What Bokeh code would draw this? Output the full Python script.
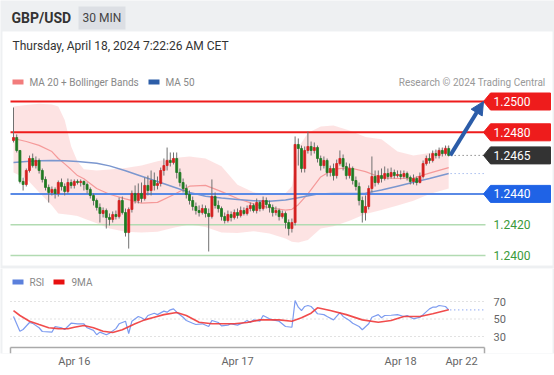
from bokeh.plotting import figure
from bokeh.layouts import column
from bokeh.models import Range1d, FixedTicker, Arrow, NormalHead, ColumnDataSource
from bokeh.embed import file_html
from bokeh.resources import INLINE
from bokeh.core.properties import value

FONT = value("Roboto")

# ---------------- texts ----------------
symbol = "GBP/USD"
timeframe = "30 MIN"
timestamp = "Thursday, April 18, 2024 7:22:26 AM CET"
legend_main = ["MA 20 + Bollinger Bands", "MA 50"]
credit = "Research \u00a9 2024 Trading Central"
legend_rsi = ["RSI", "9MA"]

# ---------------- 30-min candles ----------------
opens = [1.24747, 1.24766, 1.24682, 1.24481, 1.24461, 1.24552, 1.24630, 1.24584, 1.24617, 1.24552,
         1.24494, 1.24442, 1.24409, 1.24429, 1.24403, 1.24474, 1.24448, 1.24416, 1.24474, 1.24455,
         1.24481, 1.24474, 1.24481, 1.24461, 1.24429, 1.24390, 1.24357, 1.24312, 1.24273, 1.24292,
         1.24247, 1.24234, 1.24266, 1.24253, 1.24357, 1.24279, 1.24149, 1.24299, 1.24403, 1.24357,
         1.24403, 1.24370, 1.24455, 1.24422, 1.24487, 1.24455, 1.24468, 1.24552, 1.24584, 1.24617,
         1.24604, 1.24630, 1.24539, 1.24474, 1.24435, 1.24396, 1.24357, 1.24318, 1.24292, 1.24279,
         1.24305, 1.24273, 1.24253, 1.24383, 1.24325, 1.24305, 1.24253, 1.24227, 1.24266, 1.24247,
         1.24279, 1.24260, 1.24292, 1.24273, 1.24305, 1.24325, 1.24292, 1.24344, 1.24305, 1.24357,
         1.24331, 1.24312, 1.24279, 1.24292, 1.24253, 1.24273, 1.24214, 1.24175, 1.24214, 1.24721,
         1.24695, 1.24565, 1.24682, 1.24708, 1.24682, 1.24701, 1.24630, 1.24584, 1.24617, 1.24539,
         1.24565, 1.24519, 1.24597, 1.24630, 1.24578, 1.24519, 1.24565, 1.24487, 1.24448, 1.24357,
         1.24279, 1.24318, 1.24435, 1.24513, 1.24474, 1.24519, 1.24500, 1.24532, 1.24513, 1.24539,
         1.24519, 1.24526, 1.24513, 1.24532, 1.24506, 1.24481, 1.24500, 1.24474, 1.24513, 1.24597,
         1.24630, 1.24617, 1.24662, 1.24649, 1.24682, 1.24662, 1.24695]
highs = [1.24961, 1.24786, 1.24682, 1.24506, 1.24565, 1.24649, 1.24662, 1.24643, 1.24630, 1.24565,
         1.24513, 1.24461, 1.24448, 1.24442, 1.24487, 1.24500, 1.24468, 1.24500, 1.24494, 1.24494,
         1.24494, 1.24494, 1.24487, 1.24474, 1.24442, 1.24403, 1.24370, 1.24338, 1.24312, 1.24305,
         1.24273, 1.24286, 1.24292, 1.24377, 1.24383, 1.24305, 1.24312, 1.24422, 1.24455, 1.24468,
         1.24474, 1.24506, 1.24519, 1.24552, 1.24539, 1.24513, 1.24571, 1.24630, 1.24701, 1.24669,
         1.24669, 1.24669, 1.24565, 1.24500, 1.24461, 1.24422, 1.24383, 1.24344, 1.24325, 1.24331,
         1.24325, 1.24305, 1.24494, 1.24409, 1.24357, 1.24318, 1.24279, 1.24292, 1.24286, 1.24299,
         1.24305, 1.24318, 1.24312, 1.24325, 1.24344, 1.24338, 1.24370, 1.24357, 1.24383, 1.24377,
         1.24357, 1.24331, 1.24318, 1.24305, 1.24292, 1.24286, 1.24234, 1.24240, 1.24773, 1.24760,
         1.24714, 1.24708, 1.24805, 1.24740, 1.24734, 1.24714, 1.24649, 1.24643, 1.24630, 1.24584,
         1.24597, 1.24623, 1.24682, 1.24656, 1.24604, 1.24597, 1.24578, 1.24513, 1.24474, 1.24383,
         1.24390, 1.24455, 1.24643, 1.24552, 1.24552, 1.24565, 1.24578, 1.24565, 1.24571, 1.24558,
         1.24552, 1.24552, 1.24552, 1.24545, 1.24519, 1.24526, 1.24513, 1.24539, 1.24617, 1.24649,
         1.24662, 1.24682, 1.24688, 1.24701, 1.24701, 1.24714, 1.24714]
lows = [1.24734, 1.24669, 1.24468, 1.24422, 1.24448, 1.24539, 1.24571, 1.24565, 1.24532, 1.24474,
        1.24422, 1.24344, 1.24390, 1.24370, 1.24383, 1.24422, 1.24390, 1.24403, 1.24435, 1.24435,
        1.24461, 1.24448, 1.24422, 1.24403, 1.24370, 1.24325, 1.24292, 1.24214, 1.24247, 1.24175,
        1.24195, 1.24214, 1.24234, 1.24240, 1.24266, 1.24123, 1.24045, 1.24279, 1.24338, 1.24338,
        1.24344, 1.24357, 1.24390, 1.24390, 1.24422, 1.24429, 1.24448, 1.24519, 1.24552, 1.24578,
        1.24591, 1.24500, 1.24448, 1.24409, 1.24370, 1.24331, 1.24292, 1.24266, 1.24253, 1.24266,
        1.24247, 1.24026, 1.24240, 1.24305, 1.24279, 1.24227, 1.24208, 1.24214, 1.24221, 1.24234,
        1.24240, 1.24247, 1.24260, 1.24260, 1.24286, 1.24279, 1.24273, 1.24286, 1.24292, 1.24305,
        1.24279, 1.24253, 1.24260, 1.24227, 1.24240, 1.24175, 1.24130, 1.24149, 1.24195, 1.24584,
        1.24539, 1.24539, 1.24662, 1.24649, 1.24662, 1.24604, 1.24552, 1.24565, 1.24513, 1.24513,
        1.24487, 1.24500, 1.24584, 1.24552, 1.24494, 1.24500, 1.24461, 1.24422, 1.24325, 1.24214,
        1.24227, 1.24299, 1.24409, 1.24448, 1.24461, 1.24474, 1.24487, 1.24494, 1.24500, 1.24500,
        1.24506, 1.24494, 1.24500, 1.24487, 1.24461, 1.24461, 1.24455, 1.24468, 1.24500, 1.24584,
        1.24597, 1.24604, 1.24630, 1.24630, 1.24643, 1.24649, 1.24643]
closes = [1.24766, 1.24682, 1.24481, 1.24461, 1.24552, 1.24630, 1.24584, 1.24617, 1.24552, 1.24494,
          1.24442, 1.24409, 1.24429, 1.24403, 1.24474, 1.24448, 1.24416, 1.24474, 1.24455, 1.24481,
          1.24474, 1.24481, 1.24461, 1.24429, 1.24390, 1.24357, 1.24312, 1.24273, 1.24292, 1.24247,
          1.24234, 1.24266, 1.24253, 1.24357, 1.24279, 1.24149, 1.24299, 1.24403, 1.24357, 1.24403,
          1.24370, 1.24455, 1.24422, 1.24487, 1.24455, 1.24468, 1.24552, 1.24584, 1.24617, 1.24604,
          1.24630, 1.24539, 1.24474, 1.24435, 1.24396, 1.24357, 1.24318, 1.24292, 1.24279, 1.24305,
          1.24273, 1.24253, 1.24383, 1.24325, 1.24305, 1.24253, 1.24227, 1.24266, 1.24247, 1.24279,
          1.24260, 1.24292, 1.24273, 1.24305, 1.24325, 1.24292, 1.24344, 1.24305, 1.24357, 1.24331,
          1.24312, 1.24279, 1.24292, 1.24253, 1.24273, 1.24214, 1.24175, 1.24214, 1.24721, 1.24695,
          1.24565, 1.24682, 1.24708, 1.24682, 1.24701, 1.24630, 1.24584, 1.24617, 1.24539, 1.24565,
          1.24519, 1.24597, 1.24630, 1.24578, 1.24519, 1.24565, 1.24487, 1.24448, 1.24357, 1.24279,
          1.24318, 1.24435, 1.24513, 1.24474, 1.24519, 1.24500, 1.24532, 1.24513, 1.24539, 1.24519,
          1.24526, 1.24513, 1.24532, 1.24506, 1.24481, 1.24500, 1.24474, 1.24513, 1.24597, 1.24630,
          1.24617, 1.24662, 1.24649, 1.24682, 1.24662, 1.24695, 1.24650]

# ---------------- indicators (read at bar positions) ----------------
band_idx = [0, 4, 8, 12, 14, 16, 18, 20, 22, 26, 30, 35, 40, 45, 50, 55, 60, 65, 70, 75, 80, 85,
            87, 89, 92, 96, 100, 105, 110, 115, 120, 125, 130, 136]
band_upper = [1.24968, 1.24978, 1.24985, 1.24980, 1.24968, 1.24880, 1.24710, 1.24610, 1.24560,
              1.24552, 1.24558, 1.24568, 1.24585, 1.24612, 1.24633, 1.24643, 1.24630, 1.24580,
              1.24460, 1.24410, 1.24400, 1.24405, 1.24450, 1.24700, 1.24795, 1.24838, 1.24844,
              1.24812, 1.24770, 1.24755, 1.24675, 1.24649, 1.24665, 1.24714]
band_lower = [1.24539, 1.24500, 1.24410, 1.24325, 1.24273, 1.24268, 1.24263, 1.24256, 1.24240,
              1.24210, 1.24175, 1.24155, 1.24149, 1.24155, 1.24180, 1.24201, 1.24185, 1.24150,
              1.24146, 1.24158, 1.24143, 1.24110, 1.24090, 1.24085, 1.24100, 1.24175, 1.24190,
              1.24225, 1.24270, 1.24295, 1.24325, 1.24355, 1.24400, 1.24435]
ma20 = [1.24760, 1.24740, 1.24715, 1.24675, 1.24630, 1.24595, 1.24558, 1.24519, 1.24498, 1.24435,
        1.24398, 1.24368, 1.24340, 1.24345, 1.24395, 1.24450, 1.24455, 1.24415, 1.24370, 1.24335,
        1.24310, 1.24295, 1.24300, 1.24330, 1.24400, 1.24510, 1.24560, 1.24570, 1.24545, 1.24505,
        1.24500, 1.24503, 1.24535, 1.24571]
ma50_idx = [0, 4, 8, 12, 16, 20, 26, 30, 35, 40, 45, 50, 55, 60, 65, 70, 75, 80, 85, 89, 95, 100,
            105, 110, 115, 120, 125, 130, 136]
ma50 = [1.24604, 1.24610, 1.24615, 1.24617, 1.24615, 1.24610, 1.24599, 1.24582, 1.24550, 1.24515,
        1.24480, 1.24445, 1.24410, 1.24385, 1.24373, 1.24363, 1.24356, 1.24352, 1.24360, 1.24375,
        1.24400, 1.24403, 1.24403, 1.24405, 1.24425, 1.24450, 1.24475, 1.24500, 1.24532]

resistances = [1.2500, 1.2480]
support_main = [1.2440]
supports_minor = [1.2420, 1.2400]
target = 1.2500

rsi_idx = [0, 2, 3, 5, 6, 8, 9, 12, 13, 15, 16, 18, 20, 22, 23, 25, 26, 27, 29, 30, 32, 33, 35, 36,
           37, 39, 40, 41, 42, 44, 45, 47, 48, 49, 50, 51, 53, 54, 56, 57, 59, 61, 62, 64, 65, 67,
           68, 70, 72, 73, 74, 75, 77, 78, 80, 81, 83, 85, 87, 88, 89, 90, 91, 92, 93, 94, 95, 97,
           98, 100, 102, 103, 105, 106, 108, 109, 111, 112, 114, 115, 116, 118, 120, 122, 123, 125,
           127, 128, 130, 131, 132, 133, 135, 136]
rsi = [52.9, 36.0, 38.0, 46.0, 45.0, 40.0, 35.7, 35.0, 41.4, 40.0, 38.0, 45.2, 44.5, 44.5, 40.0,
       37.0, 32.0, 35.0, 32.0, 33.8, 39.0, 44.5, 47.5, 33.4, 47.5, 52.9, 51.4, 49.0, 54.0, 56.6,
       55.0, 59.0, 57.8, 60.5, 61.6, 57.8, 52.0, 48.3, 45.2, 43.7, 44.5, 41.4, 48.3, 46.0, 42.2,
       43.0, 44.5, 43.0, 46.0, 48.3, 46.0, 49.0, 47.5, 54.0, 50.2, 49.0, 47.5, 41.4, 40.6, 71.0,
       63.5, 59.7, 64.3, 65.4, 64.3, 60.5, 56.0, 55.0, 52.9, 49.0, 57.4, 52.9, 48.3, 45.2, 41.4,
       37.7, 44.5, 52.0, 55.0, 51.4, 54.0, 54.3, 55.0, 52.9, 54.0, 50.2, 52.0, 55.0, 61.6, 63.5,
       63.5, 65.4, 64.3, 60.5]
ma9_idx = [0, 2, 5, 8, 11, 14, 17, 19, 22, 25, 28, 31, 34, 38, 41, 44, 47, 51, 54, 58, 62, 69, 73,
           77, 81, 83, 87, 90, 93, 95, 99, 104, 109, 114, 118, 122, 127, 131, 136]
ma9 = [59.7, 54.0, 47.5, 43.7, 40.0, 39.0, 38.8, 40.6, 42.6, 40.0, 36.0, 34.6, 37.7, 44.5, 49.0,
       52.0, 55.0, 57.4, 54.0, 46.3, 44.5, 44.5, 46.0, 49.0, 49.0, 49.0, 47.5, 51.4, 56.6, 62.8,
       59.7, 55.0, 49.0, 46.3, 48.3, 52.9, 52.9, 56.0, 60.5]
rsi_levels = [30, 50, 70]
date_ticks = [19, 70, 121, 140]
date_labels = ["Apr 16", "Apr 17", "Apr 18", "Apr 22"]

# ---------------- colours ----------------
UP, DOWN, WICK = "#d42020", "#1f7a22", "#707070"
RED, BLUE_LINE, BLUE_BOX, GREEN_LINE, GREEN_TXT = "#ee1c1c", "#5a8ae6", "#1f63e6", "#b2dbb2", "#3a9a3a"
DARK_BOX, ARROW = "#333333", "#2b5ca8"
BAND, MA20_C, MA50_C = "#fddede", "#f59a9a", "#7b97cf"
PAGE_BG = "#eef0f2"


# page-pixel layout helpers (layout only; chart values come from the lists above)
def fx(px):
    return (px - 13) / 3.2


def fy(py):
    return 1.25 - (py - 101) / 15400


def fr(py):
    return 50 + (318.5 - py) / 0.875


W = 554

# ================= main price panel =================
p = figure(width=W, height=268, x_range=Range1d(fx(0), fx(W)), y_range=Range1d(fy(268), fy(0)),
           output_backend="svg", toolbar_location=None, x_axis_location=None, y_axis_location=None,
           min_border=0, outline_line_color=None, background_fill_color=PAGE_BG,
           border_fill_color=PAGE_BG)
p.grid.visible = False

# panels
p.quad(left=[fx(2)], right=[fx(552)], top=[fy(31)], bottom=[fy(265)], fill_color="white", line_color=None)
p.quad(left=[fx(78)], right=[fx(125)], top=[fy(6)], bottom=[fy(29)], fill_color="#dcdfe4", line_color=None)
p.text(x=[fx(11)], y=[fy(17.5)], text=[symbol], text_font=FONT, text_font_style="bold",
       text_font_size="14px", text_color="#333333", text_baseline="middle")
p.text(x=[fx(101.5)], y=[fy(17.5)], text=[timeframe], text_font=FONT, text_font_size="12px",
       text_color="#444444", text_baseline="middle", text_align="center")
p.text(x=[fx(12)], y=[fy(45)], text=[timestamp], text_font=FONT, text_font_size="12px",
       text_color="#333333", text_baseline="middle")

# legend
p.quad(left=[fx(12), fx(148)], right=[fx(23), fx(159)], top=[fy(79), fy(79)], bottom=[fy(84), fy(84)],
       fill_color=["#f27c7c", "#2d5ea8"], line_color=None)
p.text(x=[fx(29), fx(165)], y=[fy(81.5), fy(81.5)], text=legend_main, text_font=FONT,
       text_font_size="10px", text_color="#888888", text_baseline="middle")
p.text(x=[fx(545)], y=[fy(81.5)], text=[credit], text_font=FONT, text_font_size="10px",
       text_color="#999999", text_baseline="middle", text_align="right")

# Bollinger band + moving averages
p.varea(x=band_idx, y1=band_lower, y2=band_upper, fill_color=BAND, fill_alpha=0.85)
p.line(band_idx, ma20, line_color=MA20_C, line_width=1.2)
p.line(ma50_idx, ma50, line_color=MA50_C, line_width=1.5)

# level lines
x_left, x_right = fx(10), fx(485)
for lv in resistances:
    p.segment(x0=[x_left], x1=[x_right], y0=[lv], y1=[lv], line_color=RED, line_width=2)
for lv in support_main:
    p.segment(x0=[x_left], x1=[x_right], y0=[lv], y1=[lv], line_color=BLUE_LINE, line_width=2)
for lv in supports_minor:
    p.segment(x0=[x_left], x1=[x_right], y0=[lv], y1=[lv], line_color=GREEN_LINE, line_width=1.5)

# candles
n = len(closes)
idx = list(range(n))
src = ColumnDataSource(dict(
    x=idx, h=highs, l=lows,
    top=[max(o, c) for o, c in zip(opens, closes)],
    bottom=[min(o, c) for o, c in zip(opens, closes)],
    color=[UP if c >= o else DOWN for o, c in zip(opens, closes)],
))
p.segment(x0="x", y0="l", x1="x", y1="h", source=src, line_color=WICK, line_width=1)
p.vbar(x="x", width=0.62, top="top", bottom="bottom", source=src, fill_color="color",
       line_color="color", line_width=0.8)

# dotted projections
last_x = idx[-1]
p.segment(x0=[last_x + 0.6], x1=[fx(484)], y0=[closes[-1]], y1=[closes[-1]],
          line_color="#555555", line_width=1, line_dash="1 3")
p.segment(x0=[last_x + 0.6], x1=[fx(484)], y0=[ma50[-1]], y1=[ma50[-1]],
          line_color="#7e9de6", line_width=1, line_dash="1 3")

# arrow to target
p.add_layout(Arrow(end=NormalHead(size=13, fill_color=ARROW, line_color=ARROW, line_width=1),
                   x_start=last_x + 0.5, y_start=closes[-1], x_end=fx(483), y_end=target,
                   line_color=ARROW, line_width=4))

# price tags on the right
half = 8.5 / 15400
tags = [(lv, RED) for lv in resistances] + [(closes[-1], DARK_BOX)] + [(lv, BLUE_BOX) for lv in support_main]
xs, ys, cols, tvals = [], [], [], []
for lv, col in tags:
    xs.append([fx(483), fx(490), fx(550), fx(550), fx(490)])
    ys.append([lv, lv + half, lv + half, lv - half, lv - half])
    cols.append(col)
    tvals.append(lv)
p.patches(xs=xs, ys=ys, fill_color=cols, line_color=cols)
p.text(x=[fx(493)] * len(tvals), y=tvals, text=[f"{v:.4f}" for v in tvals], text_font=FONT,
       text_font_size="12px", text_color="white", text_baseline="middle")
p.text(x=[fx(493)] * len(supports_minor), y=supports_minor, text=[f"{v:.4f}" for v in supports_minor],
       text_font=FONT, text_font_size="12px", text_color=GREEN_TXT, text_baseline="middle")

# ================= RSI panel =================
r = figure(width=W, height=107, x_range=Range1d(fx(0), fx(W)), y_range=Range1d(fr(353), fr(268)),
           output_backend="svg", toolbar_location=None, y_axis_location=None,
           min_border_left=0, min_border_right=0, min_border_top=0, min_border_bottom=22,
           outline_line_color=None, background_fill_color=PAGE_BG, border_fill_color="white")
r.grid.visible = False
r.quad(left=[fx(2)], right=[fx(552)], top=[fr(268)], bottom=[fr(353)], fill_color="white", line_color=None)

r.xaxis.ticker = FixedTicker(ticks=date_ticks)
r.xaxis.major_label_overrides = {t: lab for t, lab in zip(date_ticks, date_labels)}
r.xaxis.axis_line_color = None
r.xaxis.major_tick_line_color = None
r.xaxis.minor_tick_line_color = None
r.xaxis.major_tick_out = 0
r.xaxis.major_label_standoff = 1
r.xaxis.major_label_text_color = "#666666"
r.xaxis.major_label_text_font_size = "11px"
r.xaxis.major_label_text_font = "Roboto"

# level grid + labels
for lv in rsi_levels:
    r.segment(x0=[fx(10)], x1=[fx(484)], y0=[lv], y1=[lv], line_color="#c4c4c4", line_width=1,
              line_dash="1 3")
r.text(x=[fx(493)] * len(rsi_levels), y=rsi_levels, text=[str(v) for v in rsi_levels], text_font=FONT,
       text_font_size="11px", text_color="#666666", text_baseline="middle")

# time axis line with end ticks
r.segment(x0=[fx(10)], x1=[fx(484)], y0=[fr(347)], y1=[fr(347)], line_color="#aaaaaa", line_width=1.5)
r.segment(x0=[fx(10), fx(484)], x1=[fx(10), fx(484)], y0=[fr(347), fr(347)], y1=[fr(353), fr(353)],
          line_color="#aaaaaa", line_width=1.5)

r.quad(left=[fx(12), fx(53)], right=[fx(23), fx(64)], top=[fr(279), fr(279)], bottom=[fr(284), fr(284)],
       fill_color=["#5b80dc", "#e81010"], line_color=None)
r.text(x=[fx(29), fx(71)], y=[fr(281.5), fr(281.5)], text=legend_rsi, text_font=FONT,
       text_font_size="10px", text_color="#888888", text_baseline="middle")

r.line(rsi_idx, rsi, line_color="#7d9cf0", line_width=1.2)
r.line(ma9_idx, ma9, line_color="#f03838", line_width=1.6, line_alpha=0.9)
r.segment(x0=[rsi_idx[-1] + 0.5], x1=[fx(483)], y0=[rsi[-1]], y1=[rsi[-1]],
          line_color="#7d9cf0", line_width=1.2, line_dash="1 3")

layout = column(p, r)
open("out.html", "w").write(file_html(layout, INLINE))
